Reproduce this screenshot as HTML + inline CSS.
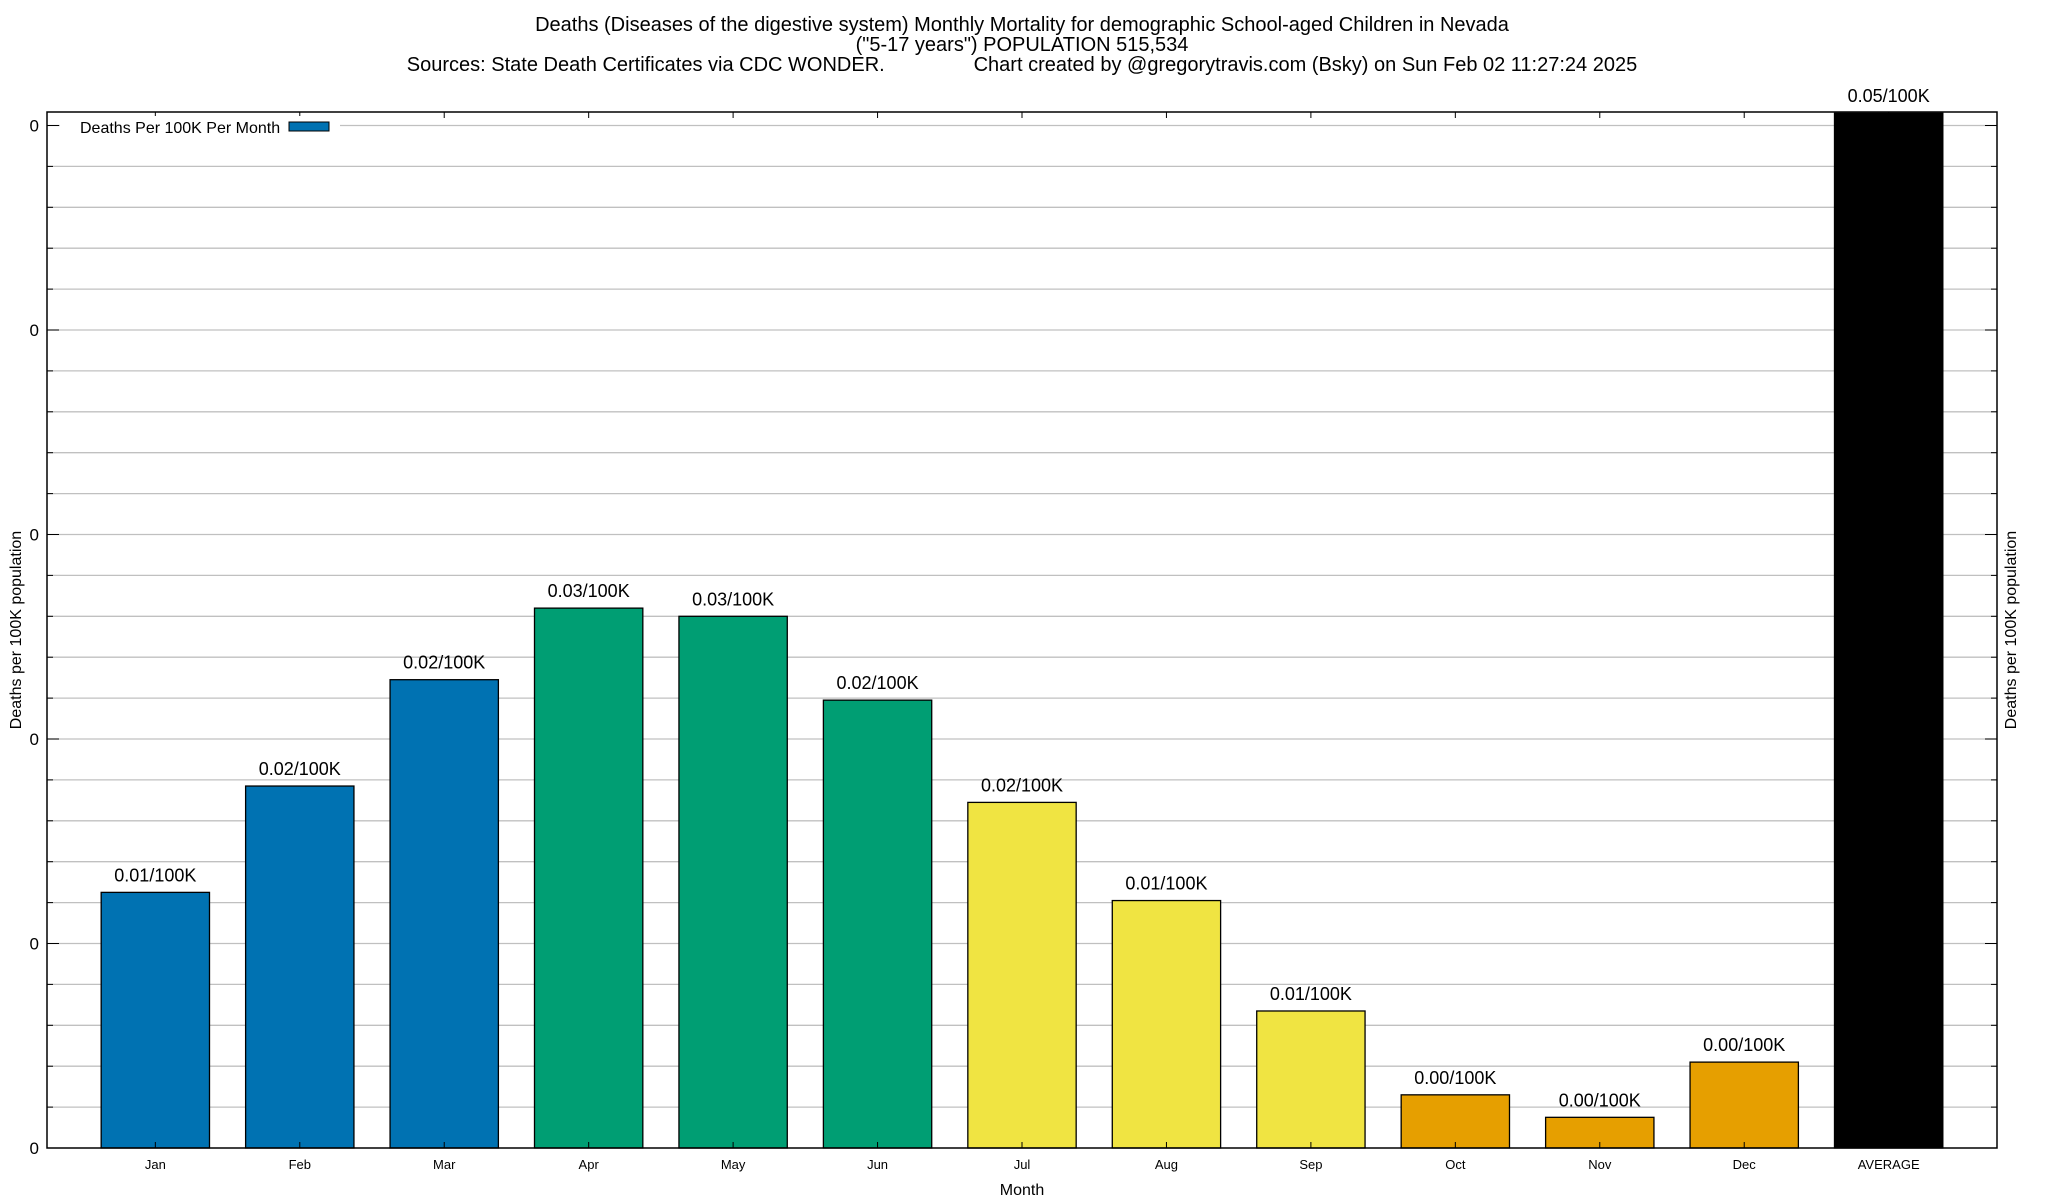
<!DOCTYPE html>
<html><head><meta charset="utf-8"><style>
html,body{margin:0;padding:0;background:#fff;}
svg{display:block;font-family:"Liberation Sans",Arial,sans-serif;}
</style></head><body>
<svg id="chart" width="2048" height="1200" viewBox="0 0 2048 1200">
<g font-size="20" text-anchor="middle" fill="#000">
<text x="1022" y="31">Deaths (Diseases of the digestive system) Monthly Mortality for demographic School-aged Children in Nevada</text>
<text x="1022" y="51">("5-17 years") POPULATION 515,534</text>
<text x="1022" y="71" xml:space="preserve">Sources: State Death Certificates via CDC WONDER.                Chart created by @gregorytravis.com (Bsky) on Sun Feb 02 11:27:24 2025</text>
</g>
<g id="grid"></g>
<g id="bars"></g>
<g id="axes"></g>
<g>
<rect x="60" y="116" width="280" height="22" fill="#fff"/>
<text x="80" y="133" font-size="16">Deaths Per 100K Per Month</text>
<rect x="289" y="122" width="40" height="9" fill="#0072b2" stroke="#000" stroke-width="1"/>
</g>
<text x="1022" y="1195" font-size="16" text-anchor="middle">Month</text>
<text transform="translate(21,630) rotate(-90)" font-size="16" text-anchor="middle">Deaths per 100K population</text>
<text transform="translate(2016,630) rotate(-90)" font-size="16" text-anchor="middle">Deaths per 100K population</text>
</svg>
<script>
const categories = ["Jan","Feb","Mar","Apr","May","Jun","Jul","Aug","Sep","Oct","Nov","Dec","AVERAGE"];
const values = [0.0125,0.0177,0.0229,0.0264,0.0260,0.0219,0.0169,0.0121,0.0067,0.0026,0.0015,0.0042,0.0506];
const barColors = ["#0072b2","#0072b2","#0072b2","#009e73","#009e73","#009e73","#f0e442","#f0e442","#f0e442","#e69f00","#e69f00","#e69f00","#000000"];
const yTickValues = [0,0.01,0.02,0.03,0.04,0.05];
const yTickLabels = ["0","0","0","0","0","0"];

const NS="http://www.w3.org/2000/svg";
const L=47,R=1997,T=112,B=1148;
const xMin=-0.75,xMax=12.75,yMax=(B-T)/20450;
function xs(i){return L+(i-xMin)/(xMax-xMin)*(R-L);}
function ys(v){return B-v/yMax*(B-T);}
function mk(tag,attrs,parent){const e=document.createElementNS(NS,tag);for(const k in attrs)e.setAttribute(k,attrs[k]);parent.appendChild(e);return e;}
const grid=document.getElementById('grid'),bars=document.getElementById('bars'),axes=document.getElementById('axes');
for(let k=1;k*0.002<yMax;k++){
  const y=ys(k*0.002);
  const g=mk('line',{x1:L,x2:R,y1:y,y2:y,stroke:'#c0c0c0','stroke-width':1.3},grid);
  
  
  const major=(k%5===0);
  const len=major?12:6;
  const t1=mk('line',{x1:L,x2:L+len,y1:y,y2:y,stroke:'#000','stroke-width':1},axes);
  
  
  const t2=mk('line',{x1:R-len,x2:R,y1:y,y2:y,stroke:'#000','stroke-width':1},axes);
  
  
}
yTickValues.forEach((v,i)=>{
  const t=mk('text',{x:39,y:ys(v)+6,'font-size':17,'text-anchor':'end'},axes);
  t.textContent=yTickLabels[i];
  
  
});
categories.forEach((c,i)=>{
  const cx=xs(i),w=0.75*(R-L)/(xMax-xMin);
  const r=mk('rect',{x:cx-w/2,y:ys(values[i]),width:w,height:B-ys(values[i]),fill:barColors[i],stroke:'#000','stroke-width':1.3},bars);
  
  
  const lb=mk('text',{x:cx,y:ys(values[i])-11,'font-size':18,'text-anchor':'middle'},bars);
  lb.textContent=values[i].toFixed(2)+"/100K";
  
  
  const xl=mk('text',{x:cx,y:1169,'font-size':13,'text-anchor':'middle'},axes);
  xl.textContent=c;
  
  
  const tb=mk('line',{x1:cx,x2:cx,y1:B,y2:B-6,stroke:'#000','stroke-width':1},axes);
  
  
  const tt=mk('line',{x1:cx,x2:cx,y1:T,y2:T+6,stroke:'#000','stroke-width':1},axes);
  
  
});
const fr=mk('rect',{x:L,y:T,width:R-L,height:B-T,fill:'none',stroke:'#000','stroke-width':1.5},axes);


</script>
</body></html>
